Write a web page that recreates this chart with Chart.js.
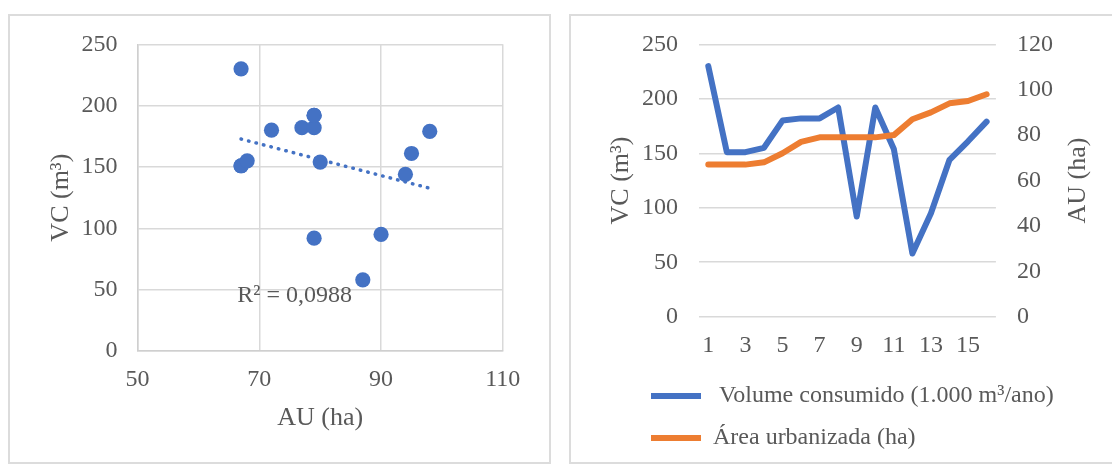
<!DOCTYPE html>
<html>
<head>
<meta charset="utf-8">
<script src="https://cdn.jsdelivr.net/npm/chart.js@4"></script>
<style>
  html, body { margin: 0; padding: 0; background: #fff; width: 1112px; height: 464px; overflow: hidden; }
  .panel { position: absolute; box-sizing: border-box; border: 2px solid #dcdcdc; background: #fff; }
  #panelLeft { left: 8px; top: 14px; width: 543px; height: 450px; }
  #panelRight { left: 569px; top: 14px; width: 560px; height: 450px; }
  canvas { position: absolute; left: 0; top: 0; }
</style>
</head>
<body>
<div class="panel" id="panelLeft"><canvas id="scatterChart" width="539" height="446"></canvas></div>
<div class="panel" id="panelRight"><canvas id="lineChart" width="541" height="446"></canvas></div>
<script>
// anos (1..16)
const years = ["1","2","3","4","5","6","7","8","9","10","11","12","13","14","15","16"];
// volume consumido (1.000 m³/ano)
const vc = [230, 151, 151, 155, 180, 182, 182, 192, 92, 192, 154, 58, 95, 144, 161, 179];
// área urbanizada (ha)
const au = [67, 67, 67, 68, 72, 77, 79, 79, 79, 79, 80, 87, 90, 94, 95, 98];
const r2Label = "R² = 0,0988";

const blue = "#4472C4";
const orange = "#ED7D31";
const textColor = "#595959";
const gridColor = "#d9d9d9";
const fontFamily = "'Liberation Serif', 'Times New Roman', serif";
const tickFont = { family: fontFamily, size: 24 };
const titleFont = { family: fontFamily, size: 26 };

Chart.defaults.color = textColor;
Chart.defaults.font.family = fontFamily;

// linear trendline (least squares), like Excel
function linearFit(xs, ys) {
    const n = xs.length;
    const mx = xs.reduce((a, b) => a + b, 0) / n;
    const my = ys.reduce((a, b) => a + b, 0) / n;
    let sxy = 0, sxx = 0;
    for (let i = 0; i < n; i++) {
        sxy += (xs[i] - mx) * (ys[i] - my);
        sxx += (xs[i] - mx) * (xs[i] - mx);
    }
    const slope = sxy / sxx;
    return { slope: slope, intercept: my - slope * mx };
}

const fit = linearFit(au, vc);
const xMin = Math.min(...au), xMax = Math.max(...au);
const trendPoints = [xMin, xMax].map(x => ({ x: x, y: fit.intercept + fit.slope * x }));
const scatterPoints = au.map((x, i) => ({ x: x, y: vc[i] }));

// keep the y axes from pushing the plot area down
function fixVertical(width) {
    return function(scale) {
        scale.width = width;
        scale.paddingTop = 0;
        scale.paddingBottom = 0;
    };
}

const r2Plugin = {
    id: "r2text",
    afterDatasetsDraw(chart) {
        const ctx = chart.ctx;
        const px = chart.scales.x.getPixelForValue(75.8);
        const py = chart.scales.y.getPixelForValue(40);
        ctx.save();
        ctx.font = "24px " + fontFamily;
        ctx.fillStyle = textColor;
        ctx.textAlign = "center";
        ctx.textBaseline = "alphabetic";
        ctx.fillText(r2Label, px, py);
        ctx.restore();
    }
};

new Chart(document.getElementById("scatterChart"), {
    type: "scatter",
    data: {
        datasets: [{
            data: scatterPoints,
            backgroundColor: blue,
            borderWidth: 0,
            pointRadius: 7.6,
            pointHoverRadius: 7.6
        }, {
            type: "line",
            data: trendPoints,
            borderColor: blue,
            borderWidth: 3.5,
            borderDash: [0.5, 7.2],
            borderCapStyle: "round",
            pointRadius: 0,
            showLine: true,
            fill: false
        }]
    },
    options: {
        responsive: false,
        animation: false,
        devicePixelRatio: 1,
        layout: { padding: { left: 0, right: 46.2, top: 28.3, bottom: 0 } },
        plugins: { legend: { display: false }, tooltip: { enabled: false } },
        scales: {
            x: {
                type: "linear",
                min: 50, max: 110,
                afterFit(scale) { scale.height = 111; },
                ticks: { stepSize: 20, font: tickFont, padding: 14, maxRotation: 0 },
                grid: { color: gridColor, lineWidth: 1.5, drawTicks: false },
                border: { color: "#cfcfcf", width: 1.5 },
                title: { display: true, text: "AU (ha)", font: titleFont, padding: { top: 0, bottom: 28.4 } }
            },
            y: {
                min: 0, max: 250,
                afterFit: fixVertical(127.6),
                ticks: { stepSize: 50, font: tickFont, padding: 20 },
                grid: { color: gridColor, lineWidth: 1.5, drawTicks: false },
                border: { color: "#cfcfcf", width: 1.5 },
                title: { display: true, text: "VC (m³)", font: titleFont, padding: { top: 35.4, bottom: 0 } }
            }
        }
    },
    plugins: [r2Plugin]
});

const rightTitlePlugin = {
    id: "rightTitle",
    afterDraw(chart) {
        const ctx = chart.ctx;
        const area = chart.chartArea;
        ctx.save();
        ctx.translate(507.5, (area.top + area.bottom) / 2);
        ctx.rotate(-Math.PI / 2);
        ctx.font = "26px " + fontFamily;
        ctx.fillStyle = textColor;
        ctx.textAlign = "center";
        ctx.textBaseline = "middle";
        ctx.fillText("AU (ha)", 0, 0);
        ctx.restore();
    }
};

// push the legend to the right, under the plot
const legendShift = {
    id: "legendShift",
    afterLayout(chart) {
        chart.legend.left += 62;
        chart.legend.right += 62;
    }
};

new Chart(document.getElementById("lineChart"), {
    type: "line",
    data: {
        labels: years,
        datasets: [{
            label: " Volume consumido (1.000 m³/ano)",
            data: vc,
            yAxisID: "y",
            borderColor: blue,
            backgroundColor: blue,
            borderWidth: 6,
            borderCapStyle: "round",
            borderJoinStyle: "round",
            pointRadius: 0,
            tension: 0,
            order: 2
        }, {
            label: "Área urbanizada (ha)",
            data: au,
            yAxisID: "y1",
            borderColor: orange,
            backgroundColor: orange,
            borderWidth: 6,
            borderCapStyle: "round",
            borderJoinStyle: "round",
            pointRadius: 0,
            tension: 0,
            order: 1
        }]
    },
    options: {
        responsive: false,
        animation: false,
        devicePixelRatio: 1,
        layout: { padding: { left: 0, right: 0, top: 28.3, bottom: 2 } },
        plugins: {
            tooltip: { enabled: false },
            legend: {
                position: "bottom",
                align: "start",
                labels: {
                    usePointStyle: true,
                    pointStyle: "line",
                    pointStyleWidth: 50,
                    boxHeight: 24,
                    padding: 18,
                    color: textColor,
                    font: { family: fontFamily, size: 24 },
                    sort: (a, b) => a.datasetIndex - b.datasetIndex
                }
            }
        },
        scales: {
            x: {
                type: "category",
                offset: true,
                afterFit(scale) { scale.height = 49.3; },
                grid: { display: false, drawTicks: false },
                border: { display: false },
                ticks: {
                    font: tickFont,
                    padding: 15,
                    autoSkip: false,
                    maxRotation: 0,
                    callback: (val, idx) => idx % 2 === 0 ? years[idx] : ""
                }
            },
            y: {
                position: "left",
                min: 0, max: 250,
                afterFit: fixVertical(128),
                ticks: { stepSize: 50, font: tickFont, padding: 21 },
                grid: { color: gridColor, lineWidth: 1.5, drawTicks: false },
                border: { display: false },
                title: { display: true, text: "VC (m³)", font: titleFont, padding: { top: 35, bottom: 0 } }
            },
            y1: {
                position: "right",
                min: 0, max: 120,
                afterFit: fixVertical(116.1),
                ticks: { stepSize: 20, font: tickFont, padding: 21 },
                grid: { display: false, drawTicks: false },
                border: { display: false }
            }
        }
    },
    plugins: [rightTitlePlugin, legendShift]
});
</script>
</body>
</html>
